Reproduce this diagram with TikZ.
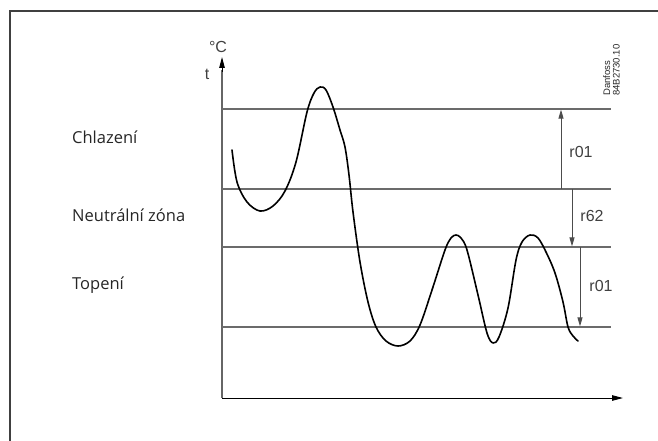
\documentclass[tikz,border=0pt]{standalone}
\usepackage{fontspec}
\setmainfont{Liberation Sans}
\newfontfamily\labfont{Open Sans}
\usetikzlibrary{arrows.meta}
\begin{document}
\begin{tikzpicture}[x=1pt,y=-1pt,
  grid/.style={draw=black!58,line width=1.2pt},
  axisline/.style={draw=black!60,line width=1.2pt},
  dim/.style={draw=black!70,line width=0.9pt,-{Triangle[length=9pt,width=5pt]}},
  axarrow/.style={line width=1pt,-{Triangle[length=11pt,width=5.5pt]}},
  zonelabel/.style={anchor=west,font=\labfont\fontsize{16.5}{19}\selectfont,text=black!85,inner sep=0pt},
  rlabel/.style={font=\fontsize{16}{18}\selectfont,text=black!75,inner sep=0pt},
  curve/.style={draw=black,line width=1.6pt}]
\useasboundingbox (0,0) rectangle (658,441);
% frame
\draw[draw=black!75,line width=1.2pt] (10,441) -- (10,11) -- (658,11);
% axes
\coordinate (o) at (222,398);
\coordinate (ytop) at (222,57);
\coordinate (xend) at (623,398);
\draw[axisline] (o) -- (222,70);
\draw[axarrow,draw=black] (222,72) -- (ytop);
\draw[axarrow,draw=black] (o) -- (xend);
\node[font=\fontsize{16}{18}\selectfont,text=black!75,inner sep=0pt] (degc) at (218,47) {°C};
\node[font=\fontsize{16}{18}\selectfont,text=black!75,inner sep=0pt] (tlab) at (207,74) {t};
% grid lines
\coordinate (l1a) at (222,109); \coordinate (l1b) at (611,109);
\coordinate (l2a) at (222,189); \coordinate (l2b) at (611,189);
\coordinate (l3a) at (222,247); \coordinate (l3b) at (611,247);
\coordinate (l4a) at (222,327); \coordinate (l4b) at (611,327);
\draw[grid] (l1a) -- (l1b);
\draw[grid] (l2a) -- (l2b);
\draw[grid] (l3a) -- (l3b);
\draw[grid] (l4a) -- (l4b);
% dimension arrows
\coordinate (d1s) at (561,189); \coordinate (d1e) at (561,109.6);
\coordinate (d2s) at (572,189); \coordinate (d2e) at (572,246.4);
\coordinate (d3s) at (580,247); \coordinate (d3e) at (580,326.4);
\draw[dim] (d1s) -- (d1e);
\draw[dim] (d2s) -- (d2e);
\draw[dim] (d3s) -- (d3e);
\node[rlabel] (r01a) at (581,152) {r01};
\node[rlabel] (r62) at (592,216) {r62};
\node[rlabel] (r01b) at (601,286) {r01};
% zone labels
\node[zonelabel] (chl) at (72,137) {Chlazení};
\node[zonelabel] (neu) at (72,215) {Neutrální zóna};
\node[zonelabel] (top) at (72,285) {Topení};
% reference text
\node[rotate=90,anchor=north west,align=left,inner sep=0pt,
      font=\fontsize{9.5}{9.5}\selectfont,text=black!85] (ref) at (603,96) {Danfoss\\84B2730.10};
% curve
\draw[curve,line cap=round,line join=round] plot[smooth,tension=0.55] coordinates {
 (232,150) (237,182) (247,202) (260,211) (273,206) (285,191) (296,162)
 (307,112) (314,93) (320,87) (326,90) (333,107) (340,130) (345,147)
 (349,175) (353,212) (360,262) (368,302) (376,327) (386,341) (398,346) (410,341)
 (420,325) (432,290) (445,250) (451,238) (456,235) (461,238) (467,250)
 (478,295) (487,333) (493,343) (499,337) (508,308) (516,260) (522,242)
 (530,235) (538,238) (546,252) (555,273) (563,302) (568,327) (573,336) (578,341)};
\end{tikzpicture}
\end{document}
